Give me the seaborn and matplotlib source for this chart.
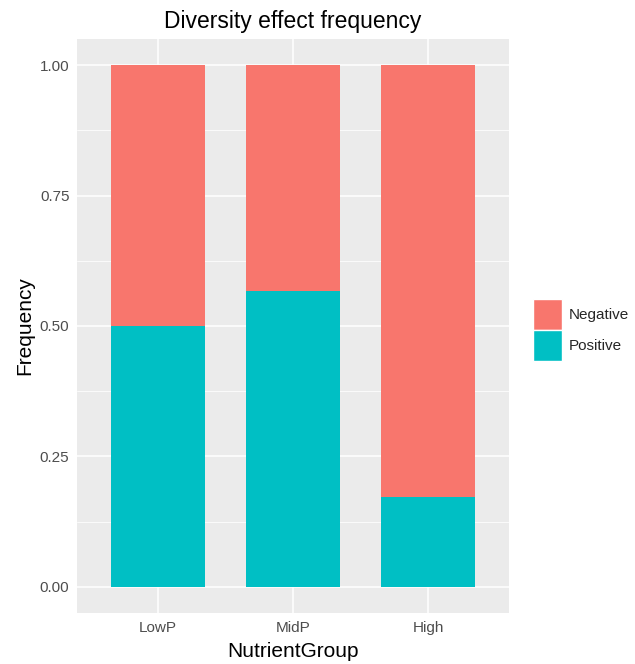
import matplotlib as mpl
import matplotlib.pyplot as plt
import numpy as np
import pandas as pd
import seaborn as sns
from matplotlib.patches import Patch

# Values.
groups = ["LowP", "MidP", "High"]
positive = [0.50, 0.567, 0.172]
negative = [0.50, 0.433, 0.828]

sns.set_style("darkgrid", {"axes.facecolor": "#EBEBEB", "grid.color": "white"})
plt.rcParams["font.family"] = ["Liberation Sans", "DejaVu Sans"]

df = pd.DataFrame({"NutrientGroup": groups, "Positive": positive, "Negative": negative})
df["Total"] = df["Positive"] + df["Negative"]

fig = plt.figure(figsize=(6.35, 6.64), dpi=100)
ax = fig.add_axes([0.1213, 0.0768, 0.6803, 0.8645])

# Stacked bars: draw the full height in red first, then the positive share on top.
sns.barplot(ax=ax, data=df, x="NutrientGroup", y="Total", color="#F8766D",
            width=0.7, saturation=1, edgecolor="none", zorder=3)
sns.barplot(ax=ax, data=df, x="NutrientGroup", y="Positive", color="#00BFC4",
            width=0.7, saturation=1, edgecolor="none", zorder=3)

ax.set_xlim(-0.6, 2.6)
ax.set_ylim(-0.05, 1.05)
ax.set_yticks([0, 0.25, 0.5, 0.75, 1.0])
ax.set_yticklabels(["0.00", "0.25", "0.50", "0.75", "1.00"])
ax.set_yticks([0.125, 0.375, 0.625, 0.875], minor=True)
ax.grid(which="major", color="white", linewidth=1.1, zorder=0)
ax.grid(which="minor", axis="y", color="white", linewidth=0.55, zorder=0)
ax.set_axisbelow(True)
for s in ax.spines.values():
    s.set_visible(False)

ax.tick_params(axis="both", which="major", length=3.5, width=0.8, color="#333333",
               labelcolor="#4D4D4D", labelsize=11, pad=2)
ax.tick_params(axis="both", which="minor", length=0)

ax.set_xlabel("NutrientGroup", fontsize=15, color="black", labelpad=5)
ax.set_ylabel("Frequency", fontsize=15, color="black", labelpad=4)
ax.set_title("Diversity effect frequency", fontsize=16.5, color="black", pad=8)

handles = [Patch(facecolor="#F8766D", label="Negative"),
           Patch(facecolor="#00BFC4", label="Positive")]
fig.legend(handles=handles, loc="center left", bbox_to_anchor=(0.829, 0.503),
           frameon=False, fontsize=11, handlelength=1.95, handleheight=2.7,
           handletextpad=0.45, labelspacing=0.0, borderaxespad=0)

fig.savefig("out.png", dpi=100)
